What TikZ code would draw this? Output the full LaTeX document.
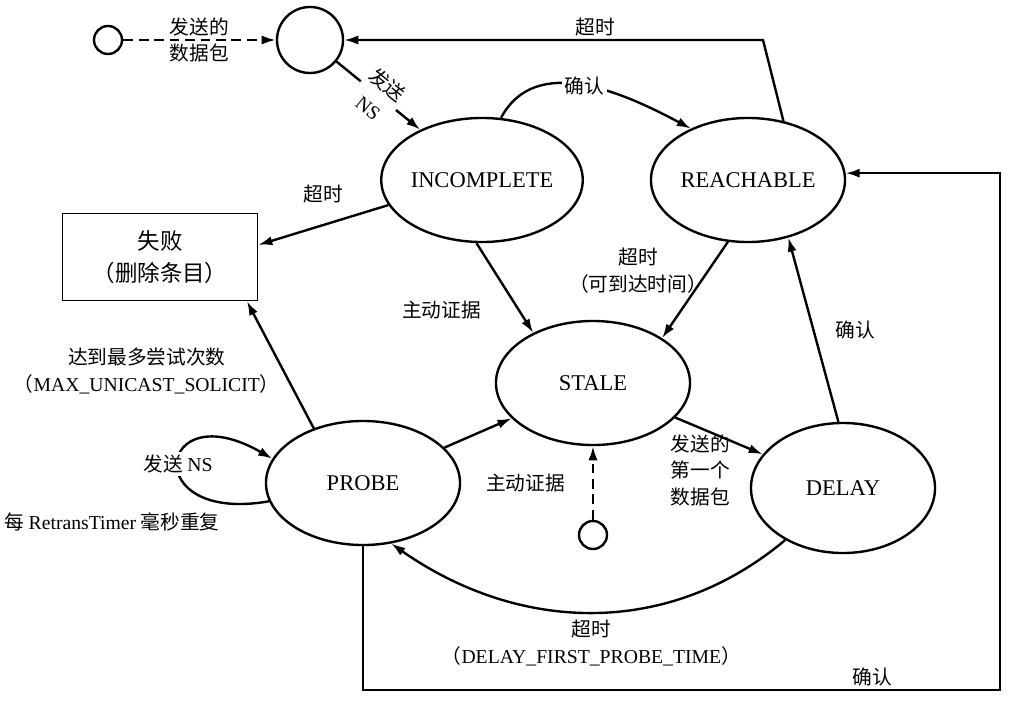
\documentclass[tikz,border=0pt]{standalone}
\usepackage{fontspec}
\setmainfont{Liberation Serif}
\newfontfamily\cjk{Noto Sans CJK SC}
\usepackage{tikz}
\usetikzlibrary{arrows.meta}
\usetikzlibrary{shapes}
\begin{document}
\begin{tikzpicture}[x=0.025cm, y=-0.025cm, >={Latex[length=10pt,width=6.5pt]}, line width=1.7pt,
    state/.style={ellipse, draw, inner sep=0pt, minimum width=4.85cm, minimum height=3.1cm,
                  font=\fontsize{16}{19}\selectfont},
    dot/.style={circle, draw, inner sep=0pt, minimum size=0.7cm},
    zh/.style={font=\fontsize{14}{19}\selectfont\cjk, align=center, inner sep=2pt},
    evid/.style={dash pattern=on 7pt off 4pt}]
      \useasboundingbox (0,0) rectangle (1012,702);
      \node[dot]                      (src)   at (108,40)  {};
      \node[circle, draw, inner sep=0pt, minimum size=1.65cm] (start) at (310,40) {};
      \node[state]                    (inc)   at (482,180) {INCOMPLETE};
      \node[state]                    (reach) at (748,180) {REACHABLE};
      \node[state]                    (stale) at (593,383) {STALE};
      \node[state]                    (probe) at (363,483) {PROBE};
      \node[state, minimum width=4.6cm, minimum height=3.25cm] (delay) at (843,488) {DELAY};
      \node[dot]                      (ev)    at (593,535) {};
      \node[draw, line width=1.1pt, minimum width=4.875cm, minimum height=2.175cm, align=center,
            font=\fontsize{16}{23}\selectfont\cjk] (fail) at (160,257) {失败\\（删除条目）};
      \node[zh]                       (rep)   at (112,522) {每 {\rmfamily RetransTimer} 毫秒重复};
      \coordinate (c_top) at (763,40);
      \coordinate (c_br)  at (1000,690);
      \path[->]
        (src)        edge [evid]                  node[zh] {发送的\\数据包}                 (start)
        (start)      edge []                      node[zh, sloped, fill=white, font=\fontsize{14}{21}\selectfont\cjk] {发送\\{\rmfamily NS}} (inc)
        (inc.73)     edge [out=62, in=152]        node[zh, fill=white] {确认}               (reach.138)
        (inc.195)    edge []                      node[zh, above=0.45cm] {超时}              (fail.7)
        (inc.265)    edge []                      node[zh, left=0.85cm, pos=.75] {主动证据}  (stale.140)
        (reach.252)  edge []                      node[zh, left, pos=.3, inner sep=0pt] {超时\\（可到达时间）} (stale.33)
        (probe)      edge []                                                                 (stale)
        (ev)         edge [evid]                  node[zh, left=0.6cm] {主动证据}            (stale)
        (stale)      edge []                      node[zh, below, pos=.35, xshift=-4pt] {发送的\\第一个\\数据包} (delay)
        (delay.94)   edge []                      node[zh, right=0.45cm] {确认}              (reach.305)
        (probe.132)  edge []                      node[zh, left, pos=.45] {达到最多尝试次数\\（{\rmfamily MAX\_UNICAST\_SOLICIT}）} (fail.-27)
        (probe.191)  edge [out=190, in=150, looseness=8] node[zh, fill=white] {发送 {\rmfamily NS}} (probe.165)
        (delay.222)  edge [out=220, in=-35]       node[zh, below=0.1cm] {超时\\（{\rmfamily DELAY\_FIRST\_PROBE\_TIME}）} (probe.295);
      \draw[->] (reach.59) -- (c_top) -- node[zh, above, pos=.4] {超时} (start);
      \draw[->] (probe.south) |- node[zh, above, pos=.9] {确认} (c_br) |- (reach.4);
    \end{tikzpicture}
\end{document}
